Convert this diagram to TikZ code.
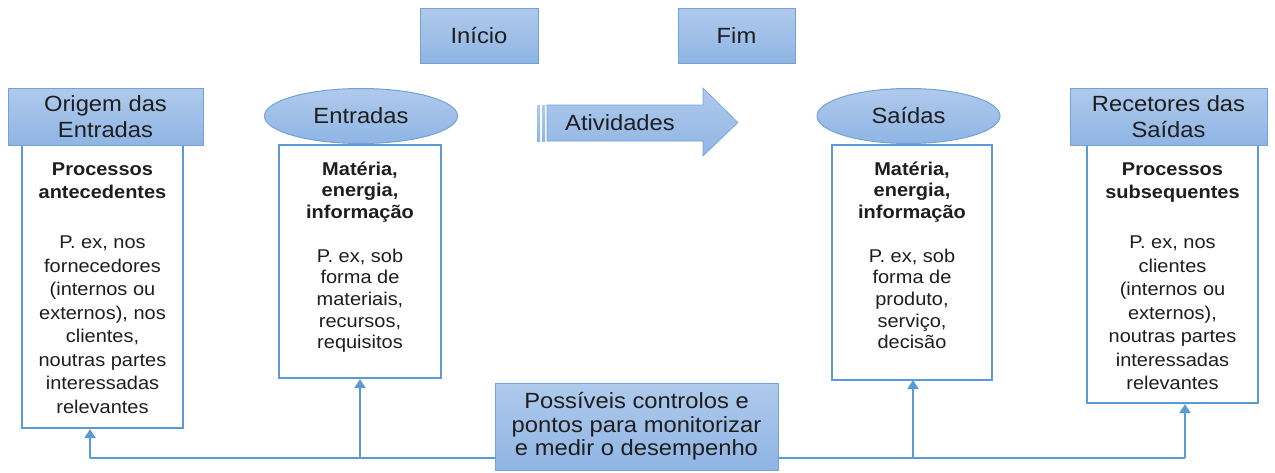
\documentclass[tikz,border=0pt]{standalone}
\usepackage{fontspec}
\setmainfont[FakeStretch=1.08]{Liberation Sans}
\usetikzlibrary{shapes.geometric,arrows.meta}
\definecolor{fillTop}{HTML}{AFCAEC}
\definecolor{fillBot}{HTML}{8FB5E4}
\definecolor{bord}{HTML}{72A2DA}
\definecolor{lineblue}{HTML}{5B9BD5}
\definecolor{txt}{HTML}{1E1E1E}
\tikzset{
  bluebox/.style={draw=bord, line width=1pt, top color=fillTop, bottom color=fillBot, inner sep=0pt, text=txt, align=center,
     font=\fontsize{22}{25.5}\selectfont},
  blueell/.style={bluebox, ellipse},
  whitebox/.style={draw=lineblue, line width=2.2pt, fill=white, inner sep=0pt},
  bodytext/.style={anchor=north, align=center, inner sep=0pt, text=txt, font=\fontsize{18.5}{23.5}\selectfont},
  bus/.style={draw=lineblue, line width=2.4pt},
  arr/.style={bus, -{Triangle[length=9pt,width=11pt]}},
}
\begin{document}
\begin{tikzpicture}[x=1pt,y=-1pt]
\useasboundingbox (0,0) rectangle (1275,472);
% white boxes
\node[whitebox, minimum width=161, minimum height=283] (bO) at (102.5,286.5) {};
\node[whitebox, minimum width=162, minimum height=233] (bE) at (360,261.5) {};
\node[whitebox, minimum width=160, minimum height=235] (bS) at (912,262.5) {};
\node[whitebox, minimum width=171, minimum height=258] (bR) at (1172.5,274) {};
% headers
\node[bluebox, minimum width=195, minimum height=57] (hO) at (105.5,116.5) {Origem das\\Entradas};
\node[blueell, minimum width=193, minimum height=55] (hE) at (361,116) {Entradas};
\node[blueell, minimum width=183, minimum height=55] (hS) at (908.5,116) {Saídas};
\node[bluebox, minimum width=197, minimum height=57] (hR) at (1168.5,116.5) {Recetores das\\Saídas};
\node[bluebox, minimum width=118, minimum height=55] (ini) at (479,35.5) {Início};
\node[bluebox, minimum width=117, minimum height=55] (fim) at (736.5,35.5) {Fim};
% activity arrow
\fill[top color=fillTop, bottom color=fillBot] (537,105) rectangle (540,141);
\fill[top color=fillTop, bottom color=fillBot] (542,105) rectangle (545,141);
\path[draw=bord, line width=0.6pt, top color=fillTop, bottom color=fillBot]
  (547,105) -- (703,105) -- (703,88) -- (738,122.5) -- (703,156) -- (703,141) -- (547,141) -- cycle;
\node[text=txt, font=\fontsize{22}{26}\selectfont, inner sep=0pt] (act) at (620,123) {Atividades};
% body texts
\node[bodytext] (tO) at (102.5,160) {\rule{0pt}{15pt}\textbf{Processos}\\\textbf{antecedentes}\\[26.5pt]P. ex, nos\\fornecedores\\(internos ou\\externos), nos\\clientes,\\noutras partes\\interessadas\\relevantes};
\node[bodytext, font=\fontsize{18.5}{21.7}\selectfont] (tE) at (360,160) {\rule{0pt}{15pt}\textbf{Matéria,}\\\textbf{energia,}\\\textbf{informação}\\[21.7pt]P. ex, sob\\forma de\\materiais,\\recursos,\\requisitos};
\node[bodytext, font=\fontsize{18.5}{21.7}\selectfont] (tS) at (912,160) {\rule{0pt}{15pt}\textbf{Matéria,}\\\textbf{energia,}\\\textbf{informação}\\[21.7pt]P. ex, sob\\forma de\\produto,\\serviço,\\decisão};
\node[bodytext] (tR) at (1172.5,160) {\rule{0pt}{15pt}\textbf{Processos}\\\textbf{subsequentes}\\[26.5pt]P. ex, nos\\clientes\\(internos ou\\externos),\\noutras partes\\interessadas\\relevantes};
% connectors
\coordinate (j1) at (90,458);
\coordinate (j4) at (1185,458);
\draw[bus] (j1) -- (j4);
\draw[arr] (j1) -- (j1 |- bO.south);
\draw[arr] (bE.south |- j1) -- (bE.south);
\draw[arr] (913,458) -- (913,380);
\draw[arr] (j4) -- (j4 |- bR.south);
% control box
\node[bluebox, minimum width=283, minimum height=87, font=\fontsize{22}{23.5}\selectfont] (ctl) at (636.5,426.5) {Possíveis controlos e\\pontos para monitorizar\\e medir o desempenho};
\end{tikzpicture}
\end{document}
